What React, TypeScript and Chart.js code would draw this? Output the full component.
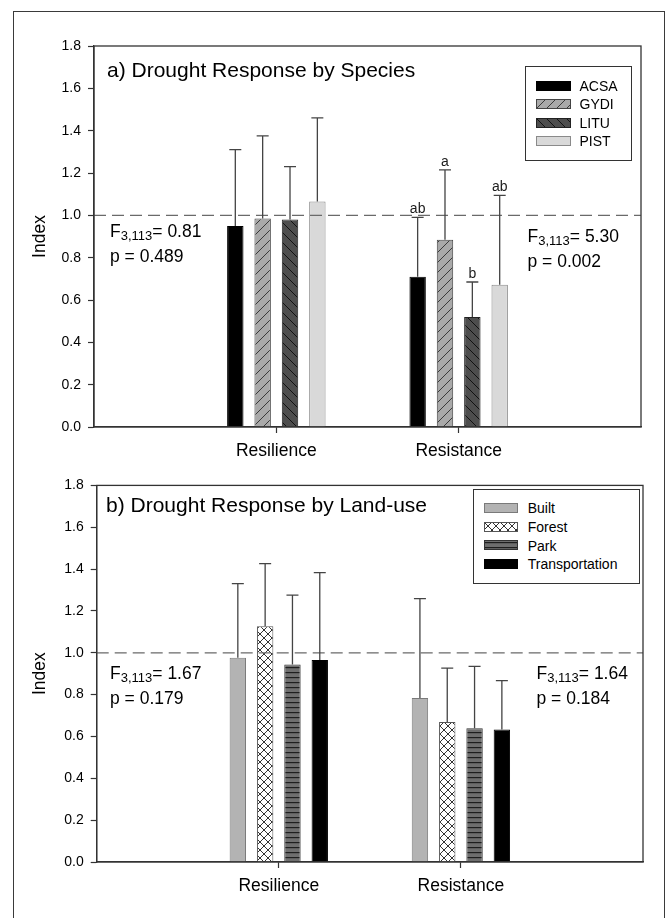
import React, { useEffect, useRef } from 'react';
import { Chart, registerables } from 'chart.js';

Chart.register(...registerables);

const FONT = "'Liberation Sans', Arial, Helvetica, sans-serif";
Chart.defaults.font.family = FONT;

// ---------- data ----------
const categories = ['Resilience', 'Resistance'];

const speciesNames = ['ACSA', 'GYDI', 'LITU', 'PIST'];
const acsaMean = [0.95, 0.71];
const acsaUpper = [1.31, 0.99];
const gydiMean = [0.985, 0.885];
const gydiUpper = [1.375, 1.215];
const lituMean = [0.98, 0.52];
const lituUpper = [1.23, 0.685];
const pistMean = [1.065, 0.672];
const pistUpper = [1.46, 1.094];
const acsaLetters = ['', 'ab'];
const gydiLetters = ['', 'a'];
const lituLetters = ['', 'b'];
const pistLetters = ['', 'ab'];

const landUseNames = ['Built', 'Forest', 'Park', 'Transportation'];
const builtMean = [0.976, 0.784];
const builtUpper = [1.331, 1.259];
const forestMean = [1.127, 0.669];
const forestUpper = [1.426, 0.927];
const parkMean = [0.944, 0.639];
const parkUpper = [1.276, 0.935];
const transMean = [0.965, 0.633];
const transUpper = [1.383, 0.867];

const yMin = 0;
const yMax = 1.8;
const yStep = 0.2;
const referenceValue = 1.0;

const titleA = 'a) Drought Response by Species';
const titleB = 'b) Drought Response by Land-use';
const fSub = '3,113';
const statsAF = ['0.81', '5.30'];
const statsAP = ['0.489', '0.002'];
const statsBF = ['1.67', '1.64'];
const statsBP = ['0.179', '0.184'];

// ---------- fills ----------
type FillSpec = { kind: string; bg: string; fg: string; border: string };

const speciesFills: FillSpec[] = [
  { kind: 'solid', bg: '#000000', fg: '#000000', border: '#000000' },
  { kind: 'fwd', bg: '#a9a9a9', fg: '#3a3a3a', border: '#444444' },
  { kind: 'back', bg: '#4d4d4d', fg: '#111111', border: '#222222' },
  { kind: 'solid', bg: '#d9d9d9', fg: '#d9d9d9', border: '#8a8a8a' },
];
const landFills: FillSpec[] = [
  { kind: 'solid', bg: '#b3b3b3', fg: '#b3b3b3', border: '#7a7a7a' },
  { kind: 'cross', bg: '#ffffff', fg: '#333333', border: '#555555' },
  { kind: 'horiz', bg: '#6e6e6e', fg: '#1e1e1e', border: '#333333' },
  { kind: 'solid', bg: '#000000', fg: '#000000', border: '#000000' },
];

function makeFill(spec: FillSpec): any {
  if (spec.kind === 'solid') return spec.bg;
  const size = spec.kind === 'fwd' || spec.kind === 'back' ? 10 : spec.kind === 'cross' ? 8 : 5;
  const c = document.createElement('canvas');
  c.width = size;
  c.height = size;
  const g = c.getContext('2d')!;
  g.fillStyle = spec.bg;
  g.fillRect(0, 0, size, size);
  g.strokeStyle = spec.fg;
  g.fillStyle = spec.fg;
  g.lineWidth = 1;
  const fwd = () => {
    for (let k = -1; k <= 1; k++) {
      g.beginPath();
      g.moveTo(k * size, size);
      g.lineTo(k * size + size, 0);
      g.stroke();
    }
  };
  const back = () => {
    for (let k = -1; k <= 1; k++) {
      g.beginPath();
      g.moveTo(k * size, 0);
      g.lineTo(k * size + size, size);
      g.stroke();
    }
  };
  if (spec.kind === 'fwd') fwd();
  else if (spec.kind === 'back') back();
  else if (spec.kind === 'cross') {
    fwd();
    back();
  } else if (spec.kind === 'horiz') {
    g.fillRect(0, 2, size, 1.2);
  }
  const tmp = document.createElement('canvas').getContext('2d')!;
  return tmp.createPattern(c, 'repeat');
}

// ---------- plugin ----------
const decorPlugin = {
  id: 'decor',
  afterDatasetsDraw(chart: any) {
    const { ctx, chartArea, scales } = chart;
    const y = scales.y;
    ctx.save();
    // reference line
    const yy = y.getPixelForValue(referenceValue);
    ctx.strokeStyle = '#6a6a6a';
    ctx.lineWidth = 1.2;
    ctx.setLineDash([12, 6]);
    ctx.beginPath();
    ctx.moveTo(chartArea.left, yy);
    ctx.lineTo(chartArea.right, yy);
    ctx.stroke();
    ctx.setLineDash([]);
    // error bars and letters
    chart.data.datasets.forEach((ds: any, i: number) => {
      const meta = chart.getDatasetMeta(i);
      meta.data.forEach((el: any, j: number) => {
        const up = ds.upper ? ds.upper[j] : null;
        if (up == null || ds.data[j] == null) return;
        const x = el.x;
        const top = el.y;
        const ye = y.getPixelForValue(up);
        ctx.strokeStyle = '#444444';
        ctx.lineWidth = 1.3;
        ctx.beginPath();
        ctx.moveTo(x, top);
        ctx.lineTo(x, ye);
        ctx.moveTo(x - 6, ye);
        ctx.lineTo(x + 6, ye);
        ctx.stroke();
        const letter = ds.letters ? ds.letters[j] : '';
        if (letter) {
          ctx.fillStyle = '#1a1a1a';
          ctx.font = `14px ${FONT}`;
          ctx.textAlign = 'center';
          ctx.textBaseline = 'alphabetic';
          ctx.fillText(letter, x, ye - 4);
        }
      });
    });
    ctx.restore();
  },
  afterDraw(chart: any) {
    const { ctx, chartArea } = chart;
    ctx.save();
    ctx.strokeStyle = '#333333';
    ctx.lineWidth = 1.3;
    ctx.strokeRect(chartArea.left, chartArea.top, chartArea.right - chartArea.left, chartArea.bottom - chartArea.top);
    ctx.restore();
  },
};

type Dims = { top: number; right: number; yw: number; xh: number };

function buildConfig(
  names: string[],
  means: number[][],
  uppers: number[][],
  letters: string[][] | null,
  fills: FillSpec[],
  dims: Dims
): any {
  return {
    type: 'bar',
    data: {
      labels: ['', ...categories, ''],
      datasets: names.map((n, k) => ({
        label: n,
        data: [null, ...means[k], null],
        upper: [null, ...uppers[k], null],
        letters: letters ? ['', ...letters[k], ''] : null,
        backgroundColor: makeFill(fills[k]),
        borderColor: fills[k].border,
        borderWidth: 1,
        categoryPercentage: 0.6,
        barPercentage: 0.6,
      })),
    },
    options: {
      animation: false,
      responsive: false,
      maintainAspectRatio: false,
      events: [],
      layout: { padding: { top: dims.top, right: dims.right, left: 0, bottom: 0 } },
      plugins: { legend: { display: false }, tooltip: { enabled: false }, title: { display: false } },
      scales: {
        x: {
          type: 'category',
          offset: false,
          grid: {
            offset: false,
            drawOnChartArea: false,
            drawTicks: true,
            tickLength: 6,
            tickWidth: 1.2,
            color: 'rgba(0,0,0,0)',
            tickColor: (c: any) => (c.index === 1 || c.index === 2 ? '#333333' : 'rgba(0,0,0,0)'),
          },
          border: { color: '#333333', width: 1.3 },
          ticks: { color: '#000000', font: { size: 17.5 }, padding: 8, maxRotation: 0, autoSkip: false },
          afterFit: (s: any) => {
            s.height = dims.xh;
          },
        },
        y: {
          min: yMin,
          max: yMax,
          ticks: {
            stepSize: yStep,
            callback: (v: any) => Number(v).toFixed(1),
            color: '#000000',
            font: { size: 14 },
            padding: 7,
          },
          grid: { drawOnChartArea: false, tickLength: 6, tickWidth: 1.2, tickColor: '#333333', color: 'rgba(0,0,0,0)' },
          border: { color: '#333333', width: 1.3 },
          title: { display: true, text: 'Index', color: '#000000', font: { size: 17.5 }, padding: { top: 30, bottom: 0 } },
          afterFit: (s: any) => {
            s.width = dims.yw;
          },
        },
      },
    },
    plugins: [decorPlugin],
  };
}

function ChartPanel({ top, height, config }: { top: number; height: number; config: () => any }) {
  const ref = useRef<HTMLCanvasElement>(null);
  useEffect(() => {
    const chart = new Chart(ref.current!, config());
    return () => chart.destroy();
  }, []);
  return (
    <div style={{ position: 'absolute', left: 0, top, width: 668, height }}>
      <canvas ref={ref} width={668} height={height} style={{ width: 668, height }} />
    </div>
  );
}

function Swatch({ spec, left, top, w, h }: { spec: FillSpec; left: number; top: number; w: number; h: number }) {
  const ref = useRef<HTMLCanvasElement>(null);
  useEffect(() => {
    const c = ref.current!;
    const g = c.getContext('2d')!;
    g.clearRect(0, 0, w, h);
    g.fillStyle = makeFill(spec);
    g.fillRect(0, 0, w, h);
    g.strokeStyle = spec.border;
    g.lineWidth = 1;
    g.strokeRect(0.5, 0.5, w - 1, h - 1);
  }, []);
  return <canvas ref={ref} width={w} height={h} style={{ position: 'absolute', left, top, width: w, height: h }} />;
}

function Text({ left, baseline, size, children }: { left: number; baseline: number; size: number; children: any }) {
  return (
    <div
      style={{
        position: 'absolute',
        left,
        top: baseline - 0.8465 * size,
        fontSize: size,
        lineHeight: 1,
        fontFamily: FONT,
        color: '#000',
        whiteSpace: 'nowrap',
      }}
    >
      {children}
    </div>
  );
}

function Stat({ left, baseline, f, p }: { left: number; baseline: number; f: string; p: string }) {
  return (
    <>
      <Text left={left} baseline={baseline} size={17.5}>
        F<span style={{ fontSize: 13, position: 'relative', top: 3 }}>{fSub}</span>= {f}
      </Text>
      <Text left={left} baseline={baseline + 25} size={17.5}>
        p = {p}
      </Text>
    </>
  );
}

function Legend({
  names,
  fills,
  left,
  top,
  width,
  height,
  firstRow,
  swLeft,
  swW,
  textLeft,
}: {
  names: string[];
  fills: FillSpec[];
  left: number;
  top: number;
  width: number;
  height: number;
  firstRow: number;
  swLeft: number;
  swW: number;
  textLeft: number;
}) {
  const step = 18.6;
  return (
    <>
      <div
        style={{
          position: 'absolute',
          left,
          top,
          width,
          height,
          boxSizing: 'border-box',
          border: '1px solid #333',
          background: '#fff',
        }}
      />
      {names.map((n, k) => {
        const cy = firstRow + k * step;
        return (
          <React.Fragment key={n}>
            <Swatch spec={fills[k]} left={swLeft} top={Math.round(cy - 5)} w={swW} h={10} />
            <Text left={textLeft} baseline={cy + 5} size={14}>
              {n}
            </Text>
          </React.Fragment>
        );
      })}
    </>
  );
}

export default function App() {
  const cfgA = () =>
    buildConfig(
      speciesNames,
      [acsaMean, gydiMean, lituMean, pistMean],
      [acsaUpper, gydiUpper, lituUpper, pistUpper],
      [acsaLetters, gydiLetters, lituLetters, pistLetters],
      speciesFills,
      { top: 46, right: 27, yw: 94, xh: 43 }
    );
  const cfgB = () =>
    buildConfig(
      landUseNames,
      [builtMean, forestMean, parkMean, transMean],
      [builtUpper, forestUpper, parkUpper, transUpper],
      null,
      landFills,
      { top: 10.7, right: 25, yw: 96.7, xh: 56 }
    );
  return (
    <div
      style={{
        position: 'absolute',
        left: 0,
        top: 0,
        width: 668,
        height: 918,
        overflow: 'hidden',
        background: '#fff',
        fontFamily: FONT,
      }}
    >
      <div
        style={{
          position: 'absolute',
          left: 13,
          top: 11,
          width: 652,
          height: 1000,
          boxSizing: 'border-box',
          border: '1.5px solid #3a3a3a',
        }}
      />
      <ChartPanel top={0} height={470} config={cfgA} />
      <ChartPanel top={470} height={448} config={cfgB} />

      <Text left={107} baseline={77} size={21}>
        {titleA}
      </Text>
      <Text left={106} baseline={512} size={21}>
        {titleB}
      </Text>

      <Stat left={110} baseline={238} f={statsAF[0]} p={statsAP[0]} />
      <Stat left={527.5} baseline={243.3} f={statsAF[1]} p={statsAP[1]} />
      <Stat left={110} baseline={680} f={statsBF[0]} p={statsBP[0]} />
      <Stat left={536.5} baseline={680} f={statsBF[1]} p={statsBP[1]} />

      <Legend
        names={speciesNames}
        fills={speciesFills}
        left={525}
        top={66}
        width={107}
        height={95}
        firstRow={85.5}
        swLeft={536}
        swW={35}
        textLeft={579.5}
      />
      <Legend
        names={landUseNames}
        fills={landFills}
        left={473}
        top={488.5}
        width={167}
        height={95}
        firstRow={508.2}
        swLeft={484}
        swW={34}
        textLeft={527.7}
      />
    </div>
  );
}
